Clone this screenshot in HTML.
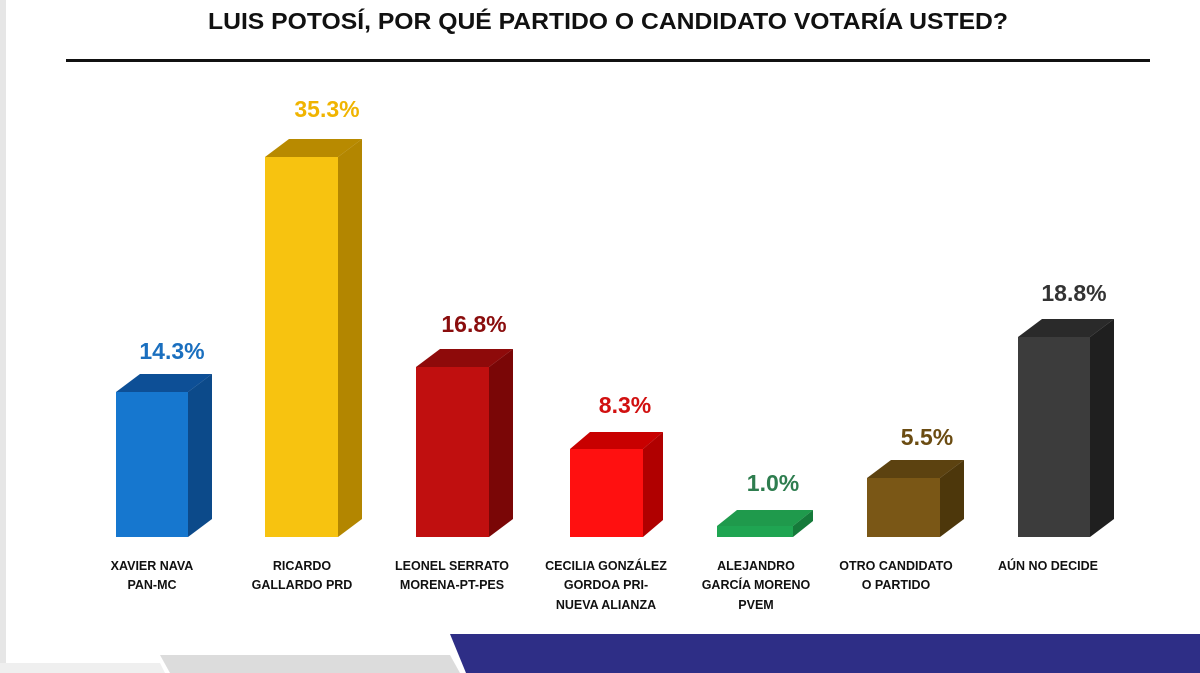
<!DOCTYPE html>
<html><head><meta charset="utf-8"><style>
body{margin:0;width:1200px;height:673px;background:#fff;overflow:hidden}
svg{display:block}
</style></head><body>
<svg width="1200" height="673" viewBox="0 0 1200 673" xmlns="http://www.w3.org/2000/svg">
<rect x="0" y="0" width="6" height="673" fill="#e6e6e6"/>
<text x="608" y="29" text-anchor="middle" font-family="Liberation Sans, sans-serif" font-weight="bold" font-size="23" fill="#111" textLength="800" lengthAdjust="spacingAndGlyphs">LUIS POTOSÍ, POR QUÉ PARTIDO O CANDIDATO VOTARÍA USTED?</text>
<rect x="66" y="59" width="1084" height="3" fill="#111"/>
<g font-family="Liberation Sans, sans-serif" font-weight="bold">
<!-- bars: x, top, colors -->
<g>
<polygon points="116,392 140,374 212,374 188,392" fill="#0d4f96"/>
<polygon points="188,392 212,374 212,519 188,537" fill="#0c4a8a"/>
<rect x="116" y="392" width="72" height="145" fill="#1677cf"/>
<text x="172" y="359" text-anchor="middle" font-size="23" fill="#1a6fbf">14.3%</text>
</g>
<g>
<polygon points="265,157 289,139 362,139 338,157" fill="#b88a00"/>
<polygon points="338,157 362,139 362,519 338,537" fill="#b38600"/>
<rect x="265" y="157" width="73" height="380" fill="#f7c310"/>
<text x="327" y="117" text-anchor="middle" font-size="23" fill="#f0b400">35.3%</text>
</g>
<g>
<polygon points="416,367 440,349 513,349 489,367" fill="#8e0a0a"/>
<polygon points="489,367 513,349 513,519 489,537" fill="#7a0606"/>
<rect x="416" y="367" width="73" height="170" fill="#c00f0f"/>
<text x="474" y="332" text-anchor="middle" font-size="23" fill="#8a0d0d">16.8%</text>
</g>
<g>
<polygon points="570,449 590,432 663,432 643,449" fill="#c80000"/>
<polygon points="643,449 663,432 663,520 643,537" fill="#b00000"/>
<rect x="570" y="449" width="73" height="88" fill="#ff1010"/>
<text x="625" y="413" text-anchor="middle" font-size="23" fill="#d11010">8.3%</text>
</g>
<g>
<polygon points="717,526 737,510 813,510 793,526" fill="#1f9a4c"/>
<polygon points="793,526 813,510 813,521 793,537" fill="#157a3a"/>
<rect x="717" y="526" width="76" height="11" fill="#1fa552"/>
<text x="773" y="491" text-anchor="middle" font-size="23" fill="#2e7d4f">1.0%</text>
</g>
<g>
<polygon points="867,478 891,460 964,460 940,478" fill="#5c4210"/>
<polygon points="940,478 964,460 964,519 940,537" fill="#4d370b"/>
<rect x="867" y="478" width="73" height="59" fill="#7a5716"/>
<text x="927" y="445" text-anchor="middle" font-size="23" fill="#6b4c12">5.5%</text>
</g>
<g>
<polygon points="1018,337 1042,319 1114,319 1090,337" fill="#2a2a2a"/>
<polygon points="1090,337 1114,319 1114,519 1090,537" fill="#1f1f1f"/>
<rect x="1018" y="337" width="72" height="200" fill="#3c3c3c"/>
<text x="1074" y="301" text-anchor="middle" font-size="23" fill="#333">18.8%</text>
</g>
</g>
<g font-family="Liberation Sans, sans-serif" font-weight="bold" font-size="12.5" fill="#111" text-anchor="middle">
<text x="152" y="570">XAVIER NAVA</text><text x="152" y="589">PAN-MC</text>
<text x="302" y="570">RICARDO</text><text x="302" y="589">GALLARDO PRD</text>
<text x="452" y="570">LEONEL SERRATO</text><text x="452" y="589">MORENA-PT-PES</text>
<text x="606" y="570">CECILIA GONZÁLEZ</text><text x="606" y="589">GORDOA PRI-</text><text x="606" y="609">NUEVA ALIANZA</text>
<text x="756" y="570">ALEJANDRO</text><text x="756" y="589">GARCÍA MORENO</text><text x="756" y="609">PVEM</text>
<text x="896" y="570">OTRO CANDIDATO</text><text x="896" y="589">O PARTIDO</text>
<text x="1048" y="570">AÚN NO DECIDE</text>
</g>
<polygon points="160,655 450,655 460,673 170,673" fill="#dcdcdc"/>
<polygon points="0,663 160,663 165,673 0,673" fill="#efefef"/>
<polygon points="450,634 1200,634 1200,673 466,673" fill="#2e2e86"/>
</svg>
</body></html>
